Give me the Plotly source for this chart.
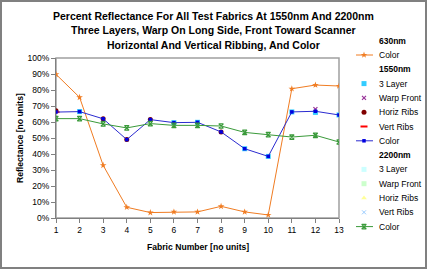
import plotly.graph_objects as go

W, H = 427, 269
fabrics = list(range(1, 14))
color_630 = [0.898, 0.754, 0.329, 0.067, 0.034, 0.038, 0.038, 0.073, 0.038, 0.019, 0.808, 0.831, 0.825]
color_1550 = [0.662, 0.665, 0.620, 0.490, 0.615, 0.596, 0.598, 0.538, 0.433, 0.385, 0.663, 0.667, 0.644]
color_2200 = [0.621, 0.621, 0.588, 0.563, 0.590, 0.579, 0.579, 0.575, 0.535, 0.521, 0.506, 0.517, 0.475]

layer3_1550_x = [2, 6, 7, 9, 10, 11, 12, 13]
layer3_1550_y = [0.665, 0.596, 0.598, 0.433, 0.385, 0.663, 0.660, 0.644]
warp_1550_x = [12]
warp_1550_y = [0.680]
horiz_1550_x = [1, 3, 4, 5, 8]
horiz_1550_y = [0.670, 0.620, 0.490, 0.615, 0.538]
vert_1550_x = [1]
vert_1550_y = [0.662]

yticks = [i / 10 for i in range(11)]
ytick_labels = [f"{i*10}%" for i in range(11)]

title_lines = [
    "Percent Reflectance For All Test Fabrics At 1550nm And 2200nm",
    "Three Layers, Warp On Long Side, Front Toward Scanner",
    "Horizontal And Vertical Ribbing, And Color",
]

ORANGE = "#F07C22"
BLUE = "#2B2BD0"
GREEN = "#3A9A3A"
FONT = "Liberation Sans"

# plot area in pixels
PL, PR, PT, PB = 56, 339, 58, 218

fig = go.Figure()
fig.add_trace(go.Scatter(x=fabrics, y=color_630, mode="lines+markers",
                         line=dict(color=ORANGE, width=1),
                         marker=dict(symbol="star", size=5, color=ORANGE)))
fig.add_trace(go.Scatter(x=layer3_1550_x, y=layer3_1550_y, mode="markers",
                         marker=dict(symbol="square", size=5, color="#33CCFF")))
fig.add_trace(go.Scatter(x=horiz_1550_x, y=horiz_1550_y, mode="markers",
                         marker=dict(symbol="circle", size=5, color="#800000")))
fig.add_trace(go.Scatter(x=vert_1550_x, y=vert_1550_y, mode="markers",
                         marker=dict(symbol="line-ew-open", size=5, color="#FF0000", line=dict(width=2, color="#FF0000"))))
fig.add_trace(go.Scatter(x=warp_1550_x, y=warp_1550_y, mode="markers",
                         marker=dict(symbol="x-thin-open", size=4, color="#993399", line=dict(width=1.2, color="#993399"))))
fig.add_trace(go.Scatter(x=fabrics, y=color_1550, mode="lines+markers",
                         line=dict(color=BLUE, width=1),
                         marker=dict(symbol="square", size=3.5, color="#0000E0")))
fig.add_trace(go.Scatter(x=fabrics, y=color_2200, mode="lines+markers",
                         line=dict(color=GREEN, width=1),
                         marker=dict(symbol="hourglass-open", size=4.5, color=GREEN, line=dict(width=1.2, color=GREEN))))

# legend (manual, pixel axes)
legend_items = [
    ("header", "630nm"),
    ("orange", "Color"),
    ("header", "1550nm"),
    ("cyan", "3 Layer"),
    ("purplex", "Warp Front"),
    ("darkred", "Horiz Ribs"),
    ("reddash", "Vert Ribs"),
    ("blue", "Color"),
    ("header", "2200nm"),
    ("lcyan", "3 Layer"),
    ("lgreen", "Warp Front"),
    ("lyellow", "Horiz Ribs"),
    ("lbluex", "Vert Ribs"),
    ("green", "Color"),
]
styles = {
    "orange": dict(line=ORANGE, marker=dict(symbol="star", size=5, color=ORANGE)),
    "cyan": dict(line=None, marker=dict(symbol="square", size=5, color="#33CCFF")),
    "purplex": dict(line=None, marker=dict(symbol="x-thin-open", size=4, color="#993399", line=dict(width=1.2, color="#993399"))),
    "darkred": dict(line=None, marker=dict(symbol="circle", size=5, color="#800000")),
    "reddash": dict(line=None, marker=dict(symbol="line-ew-open", size=5, color="#FF0000", line=dict(width=2, color="#FF0000"))),
    "blue": dict(line=BLUE, marker=dict(symbol="square", size=3.5, color="#0000E0")),
    "lcyan": dict(line=None, marker=dict(symbol="square", size=5, color="#CCFFFF")),
    "lgreen": dict(line=None, marker=dict(symbol="square", size=5, color="#CCFFCC")),
    "lyellow": dict(line=None, marker=dict(symbol="triangle-up", size=5, color="#FFFF99")),
    "lbluex": dict(line=None, marker=dict(symbol="x-thin-open", size=4, color="#99CCFF", line=dict(width=1, color="#99CCFF"))),
    "green": dict(line=GREEN, marker=dict(symbol="hourglass-open", size=4.5, color=GREEN, line=dict(width=1.2, color=GREEN))),
}
LEG_Y0, LEG_STEP = 40.7, 14.3
KEY_X, KEY_X0, KEY_X1, TEXT_X = 364, 356, 373, 377
annotations = []
for i, (kind, label) in enumerate(legend_items):
    y = LEG_Y0 + LEG_STEP * i
    if kind == "header":
        annotations.append(dict(x=TEXT_X / W, y=1 - y / H, xref="paper", yref="paper", text=f"<b>{label}</b>",
                                showarrow=False, xanchor="left", yanchor="middle",
                                font=dict(family=FONT, size=8.5, color="#000")))
        continue
    annotations.append(dict(x=TEXT_X / W, y=1 - y / H, xref="paper", yref="paper", text=label,
                            showarrow=False, xanchor="left", yanchor="middle",
                            font=dict(family=FONT, size=8.5, color="#000")))
    st = styles[kind]
    if st["line"]:
        fig.add_trace(go.Scatter(x=[KEY_X0, KEY_X1], y=[y, y], mode="lines", xaxis="x2", yaxis="y2",
                                 line=dict(color=st["line"], width=1), hoverinfo="skip", cliponaxis=False))
    fig.add_trace(go.Scatter(x=[KEY_X], y=[y], mode="markers", xaxis="x2", yaxis="y2",
                             marker=st["marker"], hoverinfo="skip", cliponaxis=False))

# title
for i, t in enumerate(title_lines):
    annotations.append(dict(x=213 / W, y=1 - (16 + 14.5 * i) / H, xref="paper", yref="paper",
                            text=f"<b>{t}</b>", showarrow=False, xanchor="center", yanchor="middle",
                            font=dict(family=FONT, size=10.5, color="#000")))
# axis titles
annotations.append(dict(x=197.5 / W, y=1 - 247 / H, xref="paper", yref="paper",
                        text="<b>Fabric Number [no units]</b>", showarrow=False,
                        xanchor="center", yanchor="middle", font=dict(family=FONT, size=8.6, color="#000")))
annotations.append(dict(x=20 / W, y=1 - 138 / H, xref="paper", yref="paper", textangle=-90,
                        text="<b>Reflectance [no units]</b>", showarrow=False,
                        xanchor="center", yanchor="middle", font=dict(family=FONT, size=8.6, color="#000")))

shapes = [
    dict(type="rect", xref="paper", yref="paper", x0=1 / W, x1=1 - 1 / W, y0=1 / H, y1=1 - 1 / H,
         line=dict(color="#808080", width=2)),
    dict(type="rect", xref="paper", yref="paper", x0=PL / W, x1=PR / W, y0=1 - PB / H, y1=1 - PT / H,
         line=dict(color="#A0A0A0", width=1.5), layer="below"),
]

fig.update_layout(
    width=W, height=H, margin=dict(l=0, r=0, t=0, b=0),
    paper_bgcolor="white", plot_bgcolor="rgba(0,0,0,0)", showlegend=False,
    font=dict(family=FONT, size=8.5, color="#000"),
    xaxis=dict(domain=[PL / W, PR / W], range=[1, 13], tickmode="array", tickvals=fabrics,
               ticks="outside", ticklen=4, tickcolor="#808080", showline=True, linecolor="#808080",
               linewidth=1, showgrid=False, zeroline=False, automargin=False,
               tickfont=dict(family=FONT, size=8.5)),
    yaxis=dict(domain=[1 - PB / H, 1 - PT / H], range=[0, 1], tickmode="array", tickvals=yticks,
               ticktext=ytick_labels, ticks="outside", ticklen=4, tickcolor="#808080",
               showline=True, linecolor="#808080", linewidth=1, showgrid=False, zeroline=False,
               automargin=False, tickfont=dict(family=FONT, size=8.5)),
    xaxis2=dict(domain=[0, 1], range=[0, W], visible=False, fixedrange=True, anchor="y2"),
    yaxis2=dict(domain=[0, 1], range=[H, 0], visible=False, fixedrange=True, anchor="x2"),
    annotations=annotations, shapes=shapes,
)

fig.write_html("out.html")
